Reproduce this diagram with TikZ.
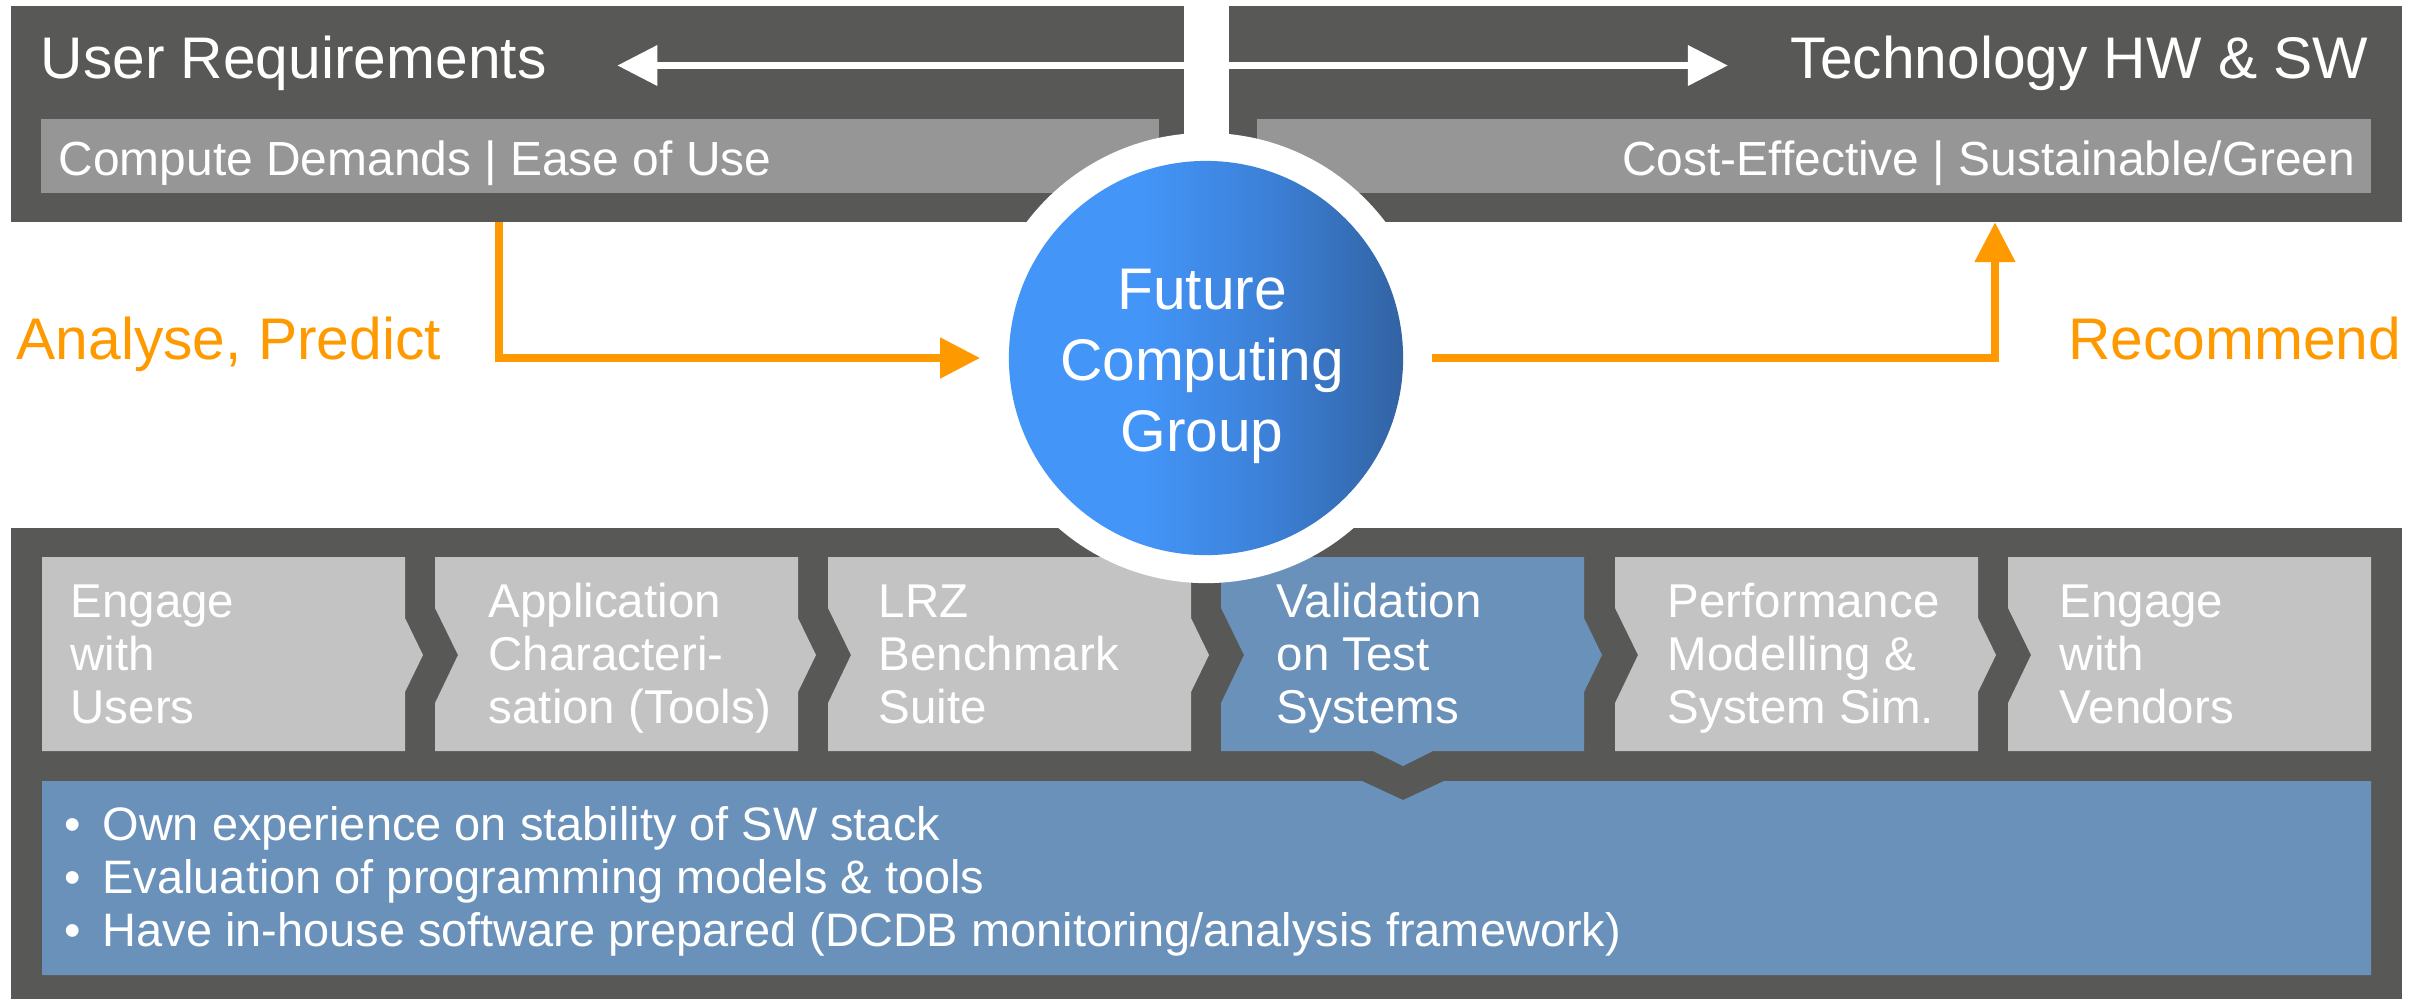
\documentclass[tikz,border=0pt]{standalone}
\usepackage{fontspec}
\setmainfont{Liberation Sans}
\usetikzlibrary{arrows.meta}
\definecolor{panelgray}{RGB}{88,88,86}
\definecolor{bargray}{RGB}{150,150,150}
\definecolor{stepgray}{RGB}{195,195,195}
\definecolor{stepblue}{RGB}{106,145,186}
\definecolor{accent}{RGB}{255,153,0}
\definecolor{fcgA}{RGB}{67,149,248}
\definecolor{fcgB}{RGB}{60,128,215}
\definecolor{fcgC}{RGB}{50,99,163}
% light on the left, darkening towards the right edge
\pgfdeclarehorizontalshading{fcgshade}{100bp}{color(0bp)=(fcgA); color(42bp)=(fcgA); color(58bp)=(fcgB); color(75bp)=(fcgC); color(100bp)=(fcgC)}
\begin{document}
\begin{tikzpicture}[x=0.01cm,y=-0.01cm,
  box/.style={rectangle, inner sep=0, outer sep=0, anchor=north west},
  big/.style={inner sep=0, font=\fontsize{16.7}{20.2}\selectfont},
  small/.style={inner sep=0, font=\fontsize{13.5}{15.08}\selectfont},
  bartxt/.style={inner sep=0, font=\fontsize{13.62}{15.08}\selectfont},
  notetxt/.style={inner sep=0, font=\fontsize{13.35}{15.08}\selectfont},
  oarrow/.style={draw=accent, line width=2.28pt, -{Triangle[length=11.4pt,width=11.1pt]}},
  warrow/.style={draw=white, line width=2pt, {Triangle[length=11.4pt,width=11.1pt]}-{Triangle[length=11.4pt,width=11.1pt]}},
]
\useasboundingbox (0,0) rectangle (2422,999);

% top panels and their sub-bars
\node[box, fill=panelgray, minimum width=11.72cm, minimum height=2.16cm] (ureq) at (11,6) {};
\node[box, fill=panelgray, minimum width=11.72cm, minimum height=2.16cm] (tech) at (1229,6) {};
\node[box, fill=bargray, minimum width=11.17cm, minimum height=0.74cm] (ureqbar) at (41,119) {};
\node[box, fill=bargray, minimum width=11.13cm, minimum height=0.74cm] (techbar) at (1257,119) {};

% bottom panel
\node[box, fill=panelgray, minimum width=23.9cm, minimum height=4.71cm] (flow) at (11,528) {};

% process chevrons
\fill[stepgray] (42,557) -- (405,557) -- (405,618) -- (423,655) -- (405,692) -- (405,751) -- (42,751) -- cycle;
\fill[stepgray] (435,557) -- (798,557) -- (798,618) -- (816,655) -- (798,692) -- (798,751) -- (435,751) -- (435,703) -- (458,655) -- (435,608) -- cycle;
\fill[stepgray] (828,557) -- (1191,557) -- (1191,618) -- (1209,655) -- (1191,692) -- (1191,751) -- (828,751) -- (828,703) -- (851,655) -- (828,608) -- cycle;
\fill[stepblue] (1221,557) -- (1584,557) -- (1584,618) -- (1602,655) -- (1584,692) -- (1584,751) -- (1433,751) -- (1403,766) -- (1373,751) -- (1221,751) -- (1221,703) -- (1244,655) -- (1221,608) -- cycle;
\fill[stepgray] (1615,557) -- (1978,557) -- (1978,618) -- (1996,655) -- (1978,692) -- (1978,751) -- (1615,751) -- (1615,703) -- (1638,655) -- (1615,608) -- cycle;
\fill[stepgray] (2008,557) -- (2371,557) -- (2371,751) -- (2008,751) -- (2008,703) -- (2031,655) -- (2008,608) -- cycle;

% details panel with notch
\fill[stepblue] (42,781) -- (1362,781) -- (1403,800) -- (1444,781) -- (2371,781) -- (2371,975) -- (42,975) -- cycle;

% chevron labels
\node[small, text=white, anchor=base west] (s1) at (70,617) {\begin{tabular}[t]{@{}l@{}}Engage\\with\\Users\end{tabular}};
\node[small, text=white, anchor=base west] (s2) at (488,617) {\begin{tabular}[t]{@{}l@{}}Application\\Characteri-\\sation (Tools)\end{tabular}};
\node[small, text=white, anchor=base west] (s3) at (878,617) {\begin{tabular}[t]{@{}l@{}}LRZ\\Benchmark\\Suite\end{tabular}};
\node[small, text=white, anchor=base west] (s4) at (1276,617) {\begin{tabular}[t]{@{}l@{}}Validation\\on Test\\Systems\end{tabular}};
\node[small, text=white, anchor=base west] (s5) at (1667,617) {\begin{tabular}[t]{@{}l@{}}Performance\\Modelling \&\\System Sim.\end{tabular}};
\node[small, text=white, anchor=base west] (s6) at (2059,617) {\begin{tabular}[t]{@{}l@{}}Engage\\with\\Vendors\end{tabular}};

% details bullets
\node[notetxt, text=white, anchor=base west] (notes) at (64,840) {\begin{tabular}[t]{@{}l@{\hspace{6.1pt}}l@{}}
\textbullet & Own experience on stability of SW stack\\
\textbullet & Evaluation of programming models \& tools\\
\textbullet & Have in-house software prepared (DCDB monitoring/analysis framework)
\end{tabular}};

% central group circle with white ring
\node[circle, fill=white, minimum size=4.5cm, inner sep=0] (ring) at (1206,358) {};
\node[circle, shade, shading=fcgshade, minimum size=3.94cm, inner sep=0] (fcg) at (1206,358) {};
\node[big, text=white, anchor=base] (fcgtext) at (1202,309) {\begin{tabular}[t]{@{}c@{}}Future\\Computing\\Group\end{tabular}};

% headings
\node[big, text=white, anchor=base west] (ureqT) at (40,78) {User Requirements};
\node[big, text=white, anchor=base east] (techT) at (2369,78) {Technology HW \& SW};
\node[bartxt, text=white, anchor=base west] (ureqS) at (58,175) {Compute Demands | Ease of Use};
\node[bartxt, text=white, anchor=base east] (techS) at (2356,175) {Cost-Effective | Sustainable/Green};
\node[big, text=accent, anchor=base west] (analyse) at (16,359) {Analyse, Predict};
\node[big, text=accent, anchor=base east] (recommend) at (2402,359) {Recommend};

% connectors
\draw[warrow] ([shift={(70,-12.5)}]ureqT.base east) -- ([shift={(-62,-12.5)}]techT.base west);
\draw[oarrow] ([shift={(488,0)}]ureq.south west) |- (ring.west);
\draw[oarrow] (ring.east) -| ([shift={(766,0)}]tech.south west);
\end{tikzpicture}
\end{document}
